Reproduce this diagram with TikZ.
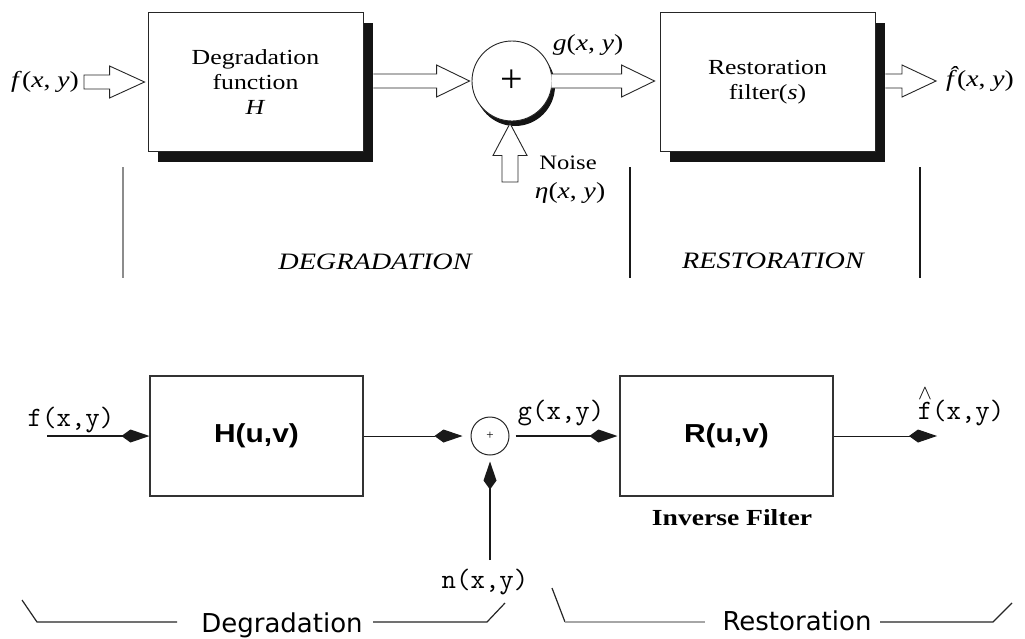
\documentclass[tikz,border=0pt]{standalone}
\usepackage{fontspec}
\setmainfont{Liberation Serif}
\newfontfamily\tser[FakeStretch=1.2]{Liberation Serif}
\newfontfamily\asans[FakeStretch=1.15]{Liberation Sans}
\newfontfamily\dsans{DejaVu Sans}
\usetikzlibrary{arrows.meta,calc,shadows}
\begin{document}
\begin{tikzpicture}[x=1pt,y=-1pt,
  topbox/.style={draw=black!85, line width=0.9pt, fill=white, minimum width=215pt, minimum height=139pt, inner sep=0pt, align=center,
    font=\tser\fontsize{21.5}{25}\selectfont,
    drop shadow={shadow xshift=10pt,shadow yshift=-10pt,fill=black!92,opacity=1}},
  botbox/.style={draw=black!80, line width=1.1pt, minimum width=213pt, minimum height=120pt, inner sep=0pt,
    font=\asans\bfseries\fontsize{26}{30}\selectfont},
  hollow/.style={draw=black!85, line width=0.9pt, fill=white, line join=miter},
  lbl/.style={inner sep=0pt},
  toplbl/.style={lbl, font=\tser\fontsize{23}{26}\selectfont},
  monolbl/.style={lbl, font=\ttfamily\fontsize{28}{30}\selectfont},
  solidarrow/.style={draw=black!90, line width=1.4pt, -{Kite[length=28pt,width=13pt,inset=9pt]}},
  divider/.style={line width=1.4pt},
  bracket/.style={line width=1.2pt, draw=black!85},
]
\useasboundingbox (0,0) rectangle (1025,638);
\fill[white] (0,0) rectangle (1025,638);

% ---------------- top diagram ----------------
\node[topbox] (deg) at (255.5,82) {Degradation\\function\\\textit{H}};
\node[topbox] (rest) at (767.5,82) {Restoration\\filter(\textit{s})};
\node[circle, draw=black!85, line width=0.9pt, fill=white, minimum size=80pt, inner sep=0pt,
  font=\fontsize{40}{40}\selectfont,
  drop shadow={shadow xshift=3pt,shadow yshift=-5pt,fill=black!92,opacity=1}] (sum) at (512,81) {+};

\node[toplbl] (fin) at (45,82) {\textit{f}(\textit{x}, \textit{y})};
\node[toplbl] (gtop) at (588,45) {\textit{g}(\textit{x}, \textit{y})};
\node[toplbl] (fhat) at (980,81) {\textit{\rlap{\hspace{0.1em}\raisebox{0.2em}[0pt][0pt]{ˆ}}f}(\textit{x}, \textit{y})};
\node[lbl, font=\tser\fontsize{20.5}{24}\selectfont] (noise) at (568,163) {Noise};
\node[toplbl] (eta) at (570,193) {\textit{η}(\textit{x}, \textit{y})};

% hollow arrows
\coordinate (a1s) at ($(fin.east)+(5,0)$);
\coordinate (a1t) at ($(deg.west)+(-3,0)$);
\draw[hollow] ($(a1s)+(0,-7)$) -- ($(a1t)+(-35,-7)$) -- ($(a1t)+(-35,-16)$) -- (a1t)
  -- ($(a1t)+(-35,16)$) -- ($(a1t)+(-35,7)$) -- ($(a1s)+(0,7)$) -- cycle;

\coordinate (a2s) at ($(deg.east)+(10,-1)$);
\coordinate (a2t) at ($(sum.west)+(-2,0)$);
\draw[hollow] ($(a2s)+(0,-7)$) -- ($(a2t)+(-33,-7)$) -- ($(a2t)+(-33,-16)$) -- (a2t)
  -- ($(a2t)+(-33,16)$) -- ($(a2t)+(-33,7)$) -- ($(a2s)+(0,7)$);

\coordinate (a3s) at ($(sum.east)+(-1,0)$);
\coordinate (a3t) at ($(rest.west)+(-5,-1)$);
\draw[hollow] ($(a3s)+(0,-7)$) -- ($(a3t)+(-33,-7)$) -- ($(a3t)+(-33,-16)$) -- (a3t)
  -- ($(a3t)+(-33,16)$) -- ($(a3t)+(-33,7)$) -- ($(a3s)+(0,7)$);

\coordinate (a4s) at ($(rest.east)+(10,-1)$);
\coordinate (a4t) at ($(fhat.west)+(-10,0)$);
\draw[hollow] ($(a4s)+(0,-7)$) -- ($(a4t)+(-34,-7)$) -- ($(a4t)+(-34,-16)$) -- (a4t)
  -- ($(a4t)+(-34,16)$) -- ($(a4t)+(-34,7)$) -- ($(a4s)+(0,7)$);

\coordinate (a5s) at (510,182);
\coordinate (a5t) at ($(sum.south)+(-2,2)$);
\draw[hollow] ($(a5s)+(-8,0)$) -- ($(a5t)+(-8,32)$) -- ($(a5t)+(-17,32)$) -- (a5t)
  -- ($(a5t)+(17,32)$) -- ($(a5t)+(8,32)$) -- ($(a5s)+(8,0)$) -- cycle;

% dividers and section labels
\draw[divider, black!45] (123,167) -- (123,278);
\draw[divider, black!90] (630,167) -- (630,278);
\draw[divider, black!90] (920,167) -- (920,278);
\node[lbl, font=\tser\itshape\fontsize{23.5}{26}\selectfont] (dlab) at (375,262) {DEGRADATION};
\node[lbl, font=\tser\itshape\fontsize{23.5}{26}\selectfont] (rlab) at (773,261) {RESTORATION};

% ---------------- bottom diagram ----------------
\node[botbox] (H) at (256.5,436) {H(u,v)};
\node[botbox] (R) at (726.5,436) {R(u,v)};
\node[lbl, font=\tser\bfseries\fontsize{23}{26}\selectfont] (inv) at (732,518) {Inverse Filter};
\node[circle, draw=black!85, line width=1pt, minimum size=38pt, inner sep=0pt, font=\fontsize{13}{13}\selectfont] (add) at (490,436) {+};

\node[monolbl] (fb) at (71,420) {f(x,y)};
\node[monolbl] (gb) at (561,413) {g(x,y)};
\node[monolbl] (nb) at (485,582) {n(x,y)};
\node[monolbl] (fhb) at (961,413) {\rlap{\makebox[0.525em]{\raisebox{0.72em}[0pt][0pt]{\fontsize{22}{22}\selectfont$\wedge$}}}f(x,y)};

\coordinate (fbs) at (47,436);
\draw[solidarrow] (fbs) -- (H.west);
\draw[solidarrow, line width=1pt, shorten >=8pt] (H.east) -- (add.west);
\draw[solidarrow, line width=2.2pt] ($(add.east)+(6,0)$) -- ($(R.west)+(-2,0)$);
\coordinate (nbs) at (490,560);
\draw[solidarrow, line width=1.8pt] (nbs) -- ($(add.south)+(0,6)$);
\coordinate (outb) at (937,436);
\draw[solidarrow, line width=1pt] (R.east) -- (outb);

% brackets
\node[lbl, font=\dsans\fontsize{26}{30}\selectfont] (degb) at (282,625) {Degradation};
\node[lbl, font=\dsans\fontsize{26}{30}\selectfont] (resb) at (797,621) {Restoration};
\coordinate (b1) at (22,600);
\coordinate (b2) at (37,622);
\coordinate (b3) at (177,622);
\coordinate (b4) at (373,622);
\coordinate (b5) at (487,622);
\coordinate (b6) at (505,603);
\draw[bracket] (b1) -- (b2) -- (b3);
\draw[bracket] (b4) -- (b5) -- (b6);
\coordinate (r1) at (552,588);
\coordinate (r2) at (565,622);
\coordinate (r3) at (705,622);
\coordinate (r4) at (880,622);
\coordinate (r5) at (993,622);
\coordinate (r6) at (1012,603);
\draw[bracket] (r1) -- (r2);
\draw[bracket, black!35] (r2) -- (r3);
\draw[bracket] (r4) -- (r5) -- (r6);
\end{tikzpicture}
\end{document}
